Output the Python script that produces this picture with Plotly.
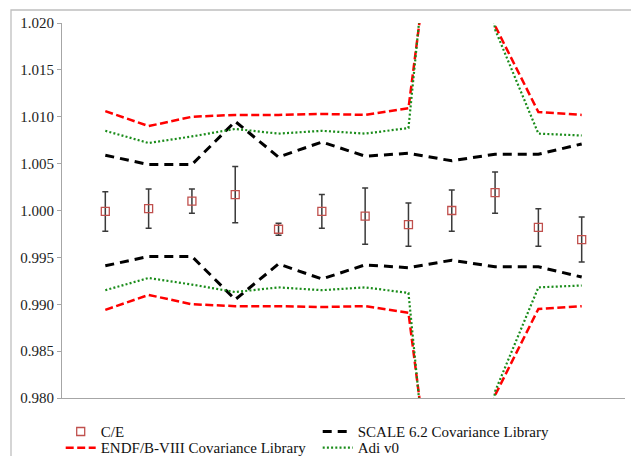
import plotly.graph_objects as go

# ---- data ----
cases = [1, 2, 3, 4, 5, 6, 7, 8, 9, 10, 11, 12]
ce_values = [0.9999, 1.0002, 1.0010, 1.0017, 0.9980, 0.9999, 0.9994, 0.9985, 1.0000, 1.0019, 0.9982, 0.9969]
ce_errors = [0.0021, 0.0021, 0.0013, 0.0030, 0.00065, 0.0018, 0.0030, 0.0023, 0.0022, 0.0022, 0.0020, 0.0024]

scale62_unc = [0.0059, 0.0049, 0.0049, 0.0095, 0.0057, 0.0073, 0.0058, 0.0061, 0.0053, 0.0060, 0.0060, 0.0071]
endf8_unc = [0.0106, 0.0090, 0.0100, 0.0102, 0.0102, 0.0103, 0.0102, 0.0109, 0.0470, 0.0197, 0.0105, 0.0102]
adi_unc = [0.0085, 0.0072, 0.0079, 0.0087, 0.0082, 0.0085, 0.0082, 0.0088, 0.0550, 0.0193, 0.0082, 0.0080]

y_ticks = [0.980, 0.985, 0.990, 0.995, 1.000, 1.005, 1.010, 1.015, 1.020]
y_tick_labels = ["0.980", "0.985", "0.990", "0.995", "1.000", "1.005", "1.010", "1.015", "1.020"]

# name, values, colour, width, dash, legend row
series = [
    ("SCALE 6.2 Covariance Library", scale62_unc, "#000000", 3, "9px,6px", "legend"),
    ("ENDF/B-VIII Covariance Library", endf8_unc, "#FF0000", 2.5, "8px,3.5px", "legend2"),
    ("Adi v0", adi_unc, "#1A8C1A", 2.2, "2px,2.2px", "legend2"),
]

FONT = "Liberation Serif"

fig = go.Figure()

fig.add_trace(go.Scatter(
    x=cases, y=ce_values, mode="markers", name="C/E", legend="legend",
    marker=dict(symbol="square-open", size=8, color="#C0504D", line=dict(width=1.3)),
    error_y=dict(type="data", array=ce_errors, visible=True, color="#3A3A3A", thickness=1.5, width=3),
))

for name, unc, color, width, dash, leg in series:
    fig.add_trace(go.Scatter(
        x=cases, y=[1 + u for u in unc], mode="lines", name=name, legendgroup=name, legend=leg,
        line=dict(color=color, width=width, dash=dash),
    ))
for name, unc, color, width, dash, leg in series:
    fig.add_trace(go.Scatter(
        x=cases, y=[1 - u for u in unc], mode="lines", name=name, legendgroup=name, legend=leg,
        showlegend=False, line=dict(color=color, width=width, dash=dash),
    ))

legend_style = dict(
    orientation="h", xanchor="left", yanchor="top",
    entrywidth=212, entrywidthmode="pixels",
    font=dict(family=FONT, size=15, color="#111111"),
    bgcolor="rgba(0,0,0,0)", tracegroupgap=0,
)

fig.update_layout(
    width=631, height=456,
    margin=dict(l=62, r=6, t=23, b=58, autoexpand=False),
    paper_bgcolor="white", plot_bgcolor="white",
    font=dict(family=FONT, size=14, color="#222222"),
    showlegend=True,
    legend=dict(x=-0.0023, y=-0.046, **legend_style),
    legend2=dict(x=-0.0023, y=-0.089, **legend_style),
    xaxis=dict(
        range=[0, 13], showgrid=False, zeroline=False, showticklabels=False,
        ticks="", showline=True, linecolor="#A6A6A6", linewidth=1,
    ),
    yaxis=dict(
        range=[0.980, 1.020], tickvals=y_ticks, ticktext=y_tick_labels,
        showgrid=False, zeroline=False, ticks="outside", ticklen=4,
        tickcolor="#A6A6A6", showline=True, linecolor="#A6A6A6", linewidth=1,
        tickfont=dict(family=FONT, size=15, color="#222222"), automargin=False,
    ),
    shapes=[dict(
        type="rect", xref="paper", yref="paper",
        x0=-51 / 563, x1=1.02, y0=-0.2, y1=1 + 13 / 374.7,
        line=dict(color="#BFBFBF", width=1.3), layer="below",
    )],
)

fig.write_html("out.html", config={"displayModeBar": False},
               post_script="document.body.style.margin='0';")
